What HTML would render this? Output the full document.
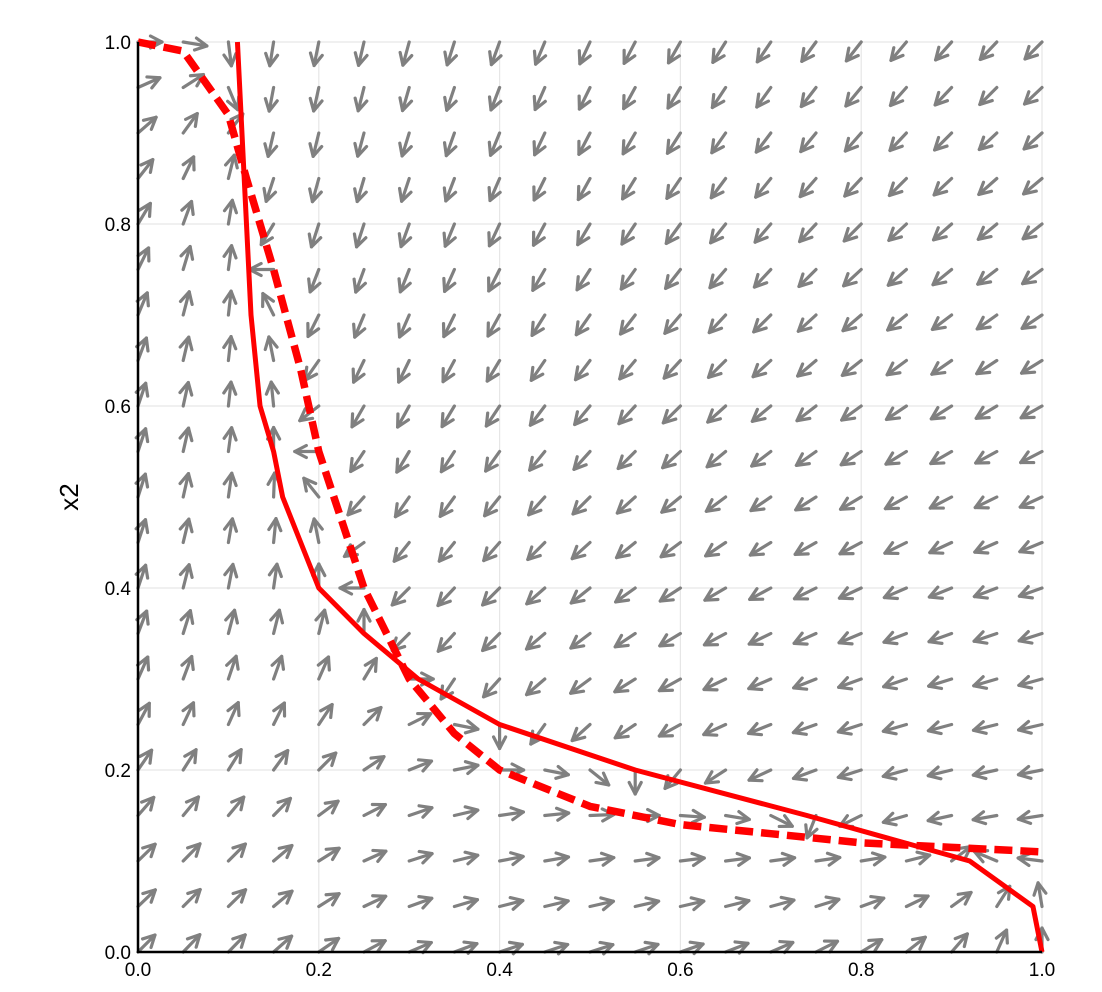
<!DOCTYPE html>
<html><head><meta charset="utf-8"><style>
html,body{margin:0;padding:0;background:#fff;}
svg{display:block;font-family:"Liberation Sans",sans-serif;}
</style></head><body>
<svg id="chart" width="1102" height="992" viewBox="0 0 1102 992" xmlns="http://www.w3.org/2000/svg">
<g id="grid"></g>
<g id="field"></g>
<g id="curves"></g>
<g id="axes"></g>
<text x="0" y="0" transform="translate(78,497) rotate(-90)" text-anchor="middle" font-size="26">x2</text>
</svg>
<script>
const solidX = [0.11,0.115,0.12,0.125,0.135,0.15,0.16,0.18,0.2,0.25,0.31,0.4,0.55,0.74,0.92,0.99,1.0];
const solidY = [1.0,0.9,0.8,0.7,0.6,0.55,0.5,0.45,0.4,0.35,0.3,0.25,0.2,0.15,0.1,0.05,0.0];
const dashX = [0,0.05,0.1,0.12,0.15,0.18,0.2,0.25,0.3,0.35,0.4,0.5,0.6,0.7,0.8,0.9,1.0];
const dashY = [1.0,0.99,0.92,0.85,0.75,0.64,0.55,0.4,0.3,0.24,0.2,0.16,0.14,0.13,0.12,0.115,0.11];
const tickVals = [0,0.2,0.4,0.6,0.8,1.0];
const tickLabels = ["0.0","0.2","0.4","0.6","0.8","1.0"];
const fieldSteps = 21;

const X0=138,X1=1042,Y0=952,Y1=42;
const sx=v=>X0+v*(X1-X0), sy=v=>Y0-v*(Y0-Y1);
const NS="http://www.w3.org/2000/svg";
function mk(tag,attrs,parent){const e=document.createElementNS(NS,tag);for(const k in attrs)e.setAttribute(k,attrs[k]);parent.appendChild(e);return e;}
function interp(xs,ys,v){
  if(v<=xs[0])return ys[0]; if(v>=xs[xs.length-1])return ys[ys.length-1];
  for(let i=1;i<xs.length;i++){if(v<=xs[i]){const t=(v-xs[i-1])/(xs[i]-xs[i-1]||1);return ys[i-1]+t*(ys[i]-ys[i-1]);}}
}
const grid=document.getElementById('grid');
tickVals.forEach(t=>{
  const l1=mk('line',{x1:sx(t),x2:sx(t),y1:Y0,y2:Y1,stroke:'#e6e6e6','stroke-width':1.2},grid);
  
  
  const l2=mk('line',{x1:X0,x2:X1,y1:sy(t),y2:sy(t),stroke:'#e6e6e6','stroke-width':1.2},grid);
  
  
});
const field=document.getElementById('field');
const sYr=solidY.slice().reverse(), sXr=solidX.slice().reverse();
const L=24, H=13, A=0.48;
for(let i=0;i<fieldSteps;i++)for(let j=0;j<fieldSteps;j++){
  const x=i/(fieldSteps-1), y=j/(fieldSteps-1);
  let dx=interp(sYr,sXr,y)-x;
  let dy=interp(dashX,dashY,x)-y;
  if(Math.abs(dx)<1e-9&&Math.abs(dy)<1e-9)dx=1e-6;
  let ang=Math.atan2(-dy,dx);
  const px=sx(x),py=sy(y),tx=px+L*Math.cos(ang),ty=py+L*Math.sin(ang);
  const g=mk('g',{stroke:'#808080','stroke-width':3.2,'stroke-linecap':'round','stroke-linejoin':'round',fill:'none'},field);
  
  
  mk('line',{x1:px,y1:py,x2:tx,y2:ty},g);
  mk('polyline',{points:`${tx-H*Math.cos(ang-A)},${ty-H*Math.sin(ang-A)} ${tx},${ty} ${tx-H*Math.cos(ang+A)},${ty-H*Math.sin(ang+A)}`},g);
}
const curves=document.getElementById('curves');
const sp=mk('polyline',{points:solidX.map((v,k)=>sx(v)+','+sy(solidY[k])).join(' '),stroke:'#ff0000','stroke-width':5,fill:'none','stroke-linejoin':'round'},curves);


const dp=mk('polyline',{points:dashX.map((v,k)=>sx(v)+','+sy(dashY[k])).join(' '),stroke:'#ff0000','stroke-width':7.5,fill:'none','stroke-dasharray':'18 8','stroke-linejoin':'round'},curves);


const axes=document.getElementById('axes');
const xa=mk('line',{x1:X0-1,x2:X1,y1:Y0,y2:Y0,stroke:'#000','stroke-width':2.5},axes);


const ya=mk('line',{x1:X0,x2:X0,y1:Y0+1,y2:Y1,stroke:'#000','stroke-width':2.5},axes);


tickVals.forEach((t,k)=>{
  const a=mk('text',{x:sx(t),y:976,'text-anchor':'middle','font-size':19},axes);a.textContent=tickLabels[k];
  
  
  const b=mk('text',{x:131,y:sy(t)+7,'text-anchor':'end','font-size':19},axes);b.textContent=tickLabels[k];
  
  
});
</script>
</body></html>
